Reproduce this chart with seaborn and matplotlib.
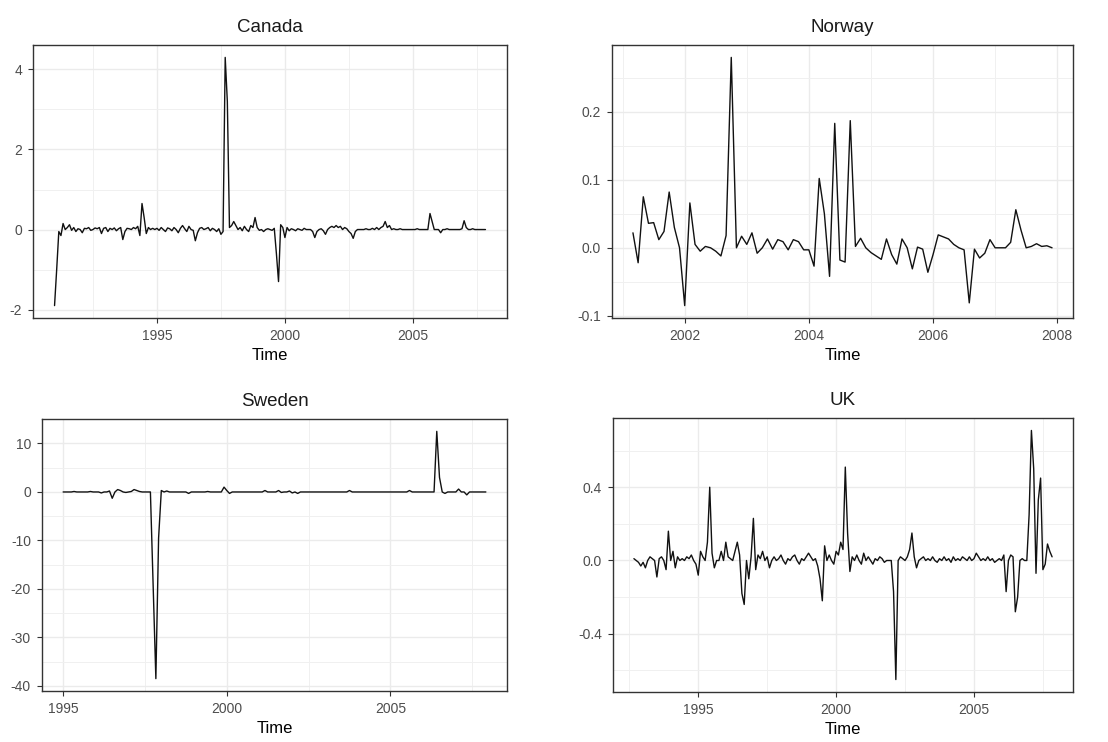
import numpy as np
import pandas as pd
import matplotlib
matplotlib.use("Agg")
import matplotlib.pyplot as plt
import seaborn as sns
from matplotlib.ticker import FixedLocator

# ---------------- data (monthly observations) ----------------
canada_start = (1991, 1)
canada = [
    -1.9, -1.0, -0.05, -0.15, 0.15, 0.0, 0.05, 0.12, -0.02, 0.05, -0.05, 0.02,   # 1991
    0.0, -0.08, 0.03, 0.02, 0.05, -0.02, 0.0, 0.04, 0.02, 0.05, -0.1, 0.03,       # 1992
    0.05, -0.05, 0.03, 0.0, 0.04, -0.03, 0.02, 0.05, -0.25, -0.05, 0.03, 0.02,    # 1993
    0.0, 0.05, 0.02, 0.08, -0.15, 0.65, 0.3, -0.1, 0.05, 0.0, 0.03, 0.0,          # 1994
    0.03, -0.02, 0.05, 0.0, -0.05, 0.04, 0.02, -0.03, 0.05, 0.0, -0.08, 0.03,     # 1995
    0.1, 0.02, -0.05, 0.08, 0.0, -0.02, -0.28, -0.08, 0.03, 0.05, 0.0, 0.02,      # 1996
    0.05, -0.03, 0.03, 0.0, -0.05, 0.02, -0.12, -0.05, 4.3, 3.2, 0.05, 0.1,       # 1997
    0.2, 0.1, 0.0, 0.05, -0.03, 0.08, 0.0, -0.05, 0.1, 0.05, 0.3, 0.05,           # 1998
    -0.02, 0.0, -0.05, 0.0, 0.02, 0.0, -0.02, 0.03, -0.6, -1.3, 0.12, 0.05,       # 1999
    -0.2, 0.05, -0.03, 0.02, 0.0, -0.03, 0.02, 0.0, -0.02, 0.03, 0.0, 0.0,        # 2000
    0.0, -0.05, -0.2, -0.05, 0.0, 0.02, -0.03, -0.12, 0.0, 0.05, 0.08, 0.05,      # 2001
    0.1, 0.05, 0.08, 0.0, 0.05, 0.02, -0.05, -0.1, -0.22, -0.05, 0.0, 0.0,        # 2002
    0.0, 0.0, 0.02, 0.0, 0.0, 0.03, 0.0, 0.05, 0.0, 0.05, 0.08, 0.2,              # 2003
    0.05, 0.1, 0.0, 0.02, 0.0, 0.0, 0.02, 0.0, 0.0, 0.0, 0.0, 0.0,                # 2004
    0.0, 0.0, 0.02, 0.0, 0.0, 0.0, 0.0, 0.0, 0.4, 0.2, 0.0, 0.0,                  # 2005
    0.0, -0.08, 0.0, 0.0, 0.02, 0.0, 0.0, 0.0, 0.0, 0.0, 0.0, 0.02,               # 2006
    0.22, 0.05, 0.0, 0.0, 0.02, 0.0, 0.0, 0.0, 0.0, 0.0, 0.0,                     # 2007
]

norway_start = (2001, 3)
norway = [
    0.022, -0.022, 0.075, 0.036, 0.037, 0.012, 0.024, 0.082, 0.03, 0.0,                 # 2001
    -0.085, 0.066, 0.005, -0.005, 0.002, 0.0, -0.005, -0.012, 0.018, 0.28, 0.0, 0.017,  # 2002
    0.005, 0.022, -0.008, 0.0, 0.013, -0.002, 0.012, 0.009, -0.003, 0.012, 0.009, -0.003,  # 2003
    -0.003, -0.027, 0.102, 0.05, -0.042, 0.183, -0.018, -0.021, 0.187, 0.002, 0.014, 0.0,  # 2004
    -0.007, -0.012, -0.017, 0.013, -0.01, -0.024, 0.013, 0.0, -0.031, 0.001, -0.002, -0.036,  # 2005
    -0.01, 0.019, 0.016, 0.013, 0.005, 0.0, -0.003, -0.081, -0.002, -0.015, -0.008, 0.012,  # 2006
    0.0, 0.0, 0.0, 0.008, 0.056, 0.026, 0.0, 0.002, 0.006, 0.002, 0.003, 0.0,            # 2007
]

sweden_start = (1995, 1)
sweden = [
    0, 0, 0, 0, 0.1, 0, 0, 0, 0, 0, 0.1, 0,                   # 1995
    0, 0, -0.2, 0, 0, 0.2, -1.3, 0, 0.5, 0.3, 0, -0.1,        # 1996
    0, 0.1, 0.5, 0.3, 0.1, 0, 0, 0, 0, -19, -38.5, -9.5,      # 1997
    0.3, 0, 0.2, 0, 0, 0, 0, 0, 0, 0, -0.3, 0,                # 1998
    0, 0, 0, 0, 0, 0.1, 0, 0, 0, 0, 0, 1.0,                   # 1999
    0.3, -0.3, 0, 0, 0, 0, 0, 0, 0, 0, 0, 0,                  # 2000
    0, 0, 0.3, 0, 0, 0, 0, 0.3, -0.1, 0, 0, 0.2,              # 2001
    -0.2, 0, -0.3, 0, 0, 0, 0, 0, 0, 0, 0, 0,                 # 2002
    0, 0, 0, 0, 0, 0, 0, 0, 0, 0.3, 0, 0,                     # 2003
    0, 0, 0, 0, 0, 0, 0, 0, 0, 0, 0, 0,                       # 2004
    0, 0, 0, 0, 0, 0, 0, 0.3, 0, 0, 0, 0,                     # 2005
    0, 0, 0, 0, 0, 12.5, 3, 0, -0.3, 0, 0, 0,                 # 2006
    0, 0.6, 0, 0, -0.6, 0, 0, 0, 0, 0, 0, 0,                  # 2007
]

uk_start = (1992, 9)
uk = [
    0.01, 0.0, -0.01, -0.03,                                               # 1992
    -0.01, -0.04, 0.0, 0.02, 0.01, 0.0, -0.09, 0.01, 0.02, 0.0, -0.05, 0.16,   # 1993
    0.0, 0.05, -0.04, 0.02, 0.0, 0.01, 0.0, 0.02, 0.01, 0.03, 0.0, -0.02,      # 1994
    -0.08, 0.05, 0.02, 0.0, 0.1, 0.4, 0.04, -0.04, 0.0, 0.0, 0.05, 0.0,        # 1995
    0.1, 0.02, 0.01, 0.0, 0.05, 0.1, 0.03, -0.18, -0.24, 0.0, -0.1, 0.02,      # 1996
    0.23, -0.05, 0.03, 0.01, 0.05, 0.0, 0.02, -0.04, 0.0, 0.02, 0.0, 0.01,     # 1997
    0.03, 0.0, -0.02, 0.01, 0.0, 0.02, 0.03, 0.0, -0.02, 0.01, 0.0, 0.02,      # 1998
    0.04, 0.02, 0.0, 0.01, -0.03, -0.1, -0.22, 0.08, 0.0, 0.03, 0.0, -0.02,    # 1999
    0.05, 0.03, 0.1, 0.06, 0.51, 0.15, -0.06, 0.02, 0.0, 0.03, 0.0, -0.02,     # 2000
    0.04, 0.0, 0.02, 0.0, -0.02, 0.01, 0.0, 0.02, 0.01, -0.01, 0.0, 0.0,       # 2001
    0.0, -0.17, -0.65, 0.0, 0.02, 0.01, 0.0, 0.02, 0.06, 0.15, 0.02, -0.04,    # 2002
    0.0, 0.01, 0.02, 0.0, 0.01, 0.0, 0.02, 0.0, -0.01, 0.01, 0.0, 0.02,        # 2003
    0.0, 0.01, -0.01, 0.02, 0.0, 0.01, 0.0, 0.02, 0.01, 0.0, 0.02, 0.0,        # 2004
    0.01, 0.04, 0.02, 0.0, 0.01, 0.0, 0.02, 0.0, 0.01, -0.01, 0.0, 0.01,       # 2005
    0.0, 0.03, -0.17, 0.0, 0.03, 0.02, -0.28, -0.2, 0.0, 0.01, 0.0, 0.0,       # 2006
    0.25, 0.71, 0.5, -0.07, 0.33, 0.45, -0.05, -0.02, 0.09, 0.05, 0.02,        # 2007
]

titles = ["Canada", "Norway", "Sweden", "UK"]
x_major = [[1995, 2000, 2005], [2002, 2004, 2006, 2008], [1995, 2000, 2005], [1995, 2000, 2005]]
x_minor = [[1992.5, 1997.5, 2002.5, 2007.5], [2001, 2003, 2005, 2007],
           [1997.5, 2002.5, 2007.5], [1992.5, 1997.5, 2002.5, 2007.5]]
y_major = [[-2, 0, 2, 4], [-0.1, 0.0, 0.1, 0.2], [-40, -30, -20, -10, 0, 10], [-0.4, 0.0, 0.4]]
y_minor = [[-1, 1, 3], [-0.05, 0.05, 0.15, 0.25], [-35, -25, -15, -5, 5], [-0.6, -0.2, 0.2, 0.6]]
y_labels = [["-2", "0", "2", "4"], ["-0.1", "0.0", "0.1", "0.2"],
            ["-40", "-30", "-20", "-10", "0", "10"], ["-0.4", "0.0", "0.4"]]
x_labels = [["1995", "2000", "2005"], ["2002", "2004", "2006", "2008"],
            ["1995", "2000", "2005"], ["1995", "2000", "2005"]]


def to_frame(start, values):
    y0, m0 = start
    t = [y0 + (m0 - 1 + i) / 12.0 for i in range(len(values))]
    return pd.DataFrame({"Time": t, "value": values})


frames = [to_frame(canada_start, canada), to_frame(norway_start, norway),
          to_frame(sweden_start, sweden), to_frame(uk_start, uk)]

# ---------------- figure ----------------
sns.set_style("white")
plt.rcParams["font.family"] = ["Liberation Sans", "DejaVu Sans"]

W, H = 1108, 742
fig = plt.figure(figsize=(W / 100, H / 100), dpi=100)
rects_px = [(33, 45, 507, 318), (612, 45, 1073, 318), (42, 419, 507, 691), (613, 418, 1073, 692)]

for i, (l, t, r, b) in enumerate(rects_px):
    ax = fig.add_axes([l / W, 1 - b / H, (r - l) / W, (b - t) / H])
    sns.lineplot(data=frames[i], x="Time", y="value", ax=ax, color="#111111",
                 linewidth=1.0, estimator=None, sort=False)
    ax.margins(x=0.05, y=0.05)
    ax.set_facecolor("white")
    ax.set_axisbelow(True)
    ax.xaxis.set_major_locator(FixedLocator(x_major[i]))
    ax.xaxis.set_minor_locator(FixedLocator(x_minor[i]))
    ax.yaxis.set_major_locator(FixedLocator(y_major[i]))
    ax.yaxis.set_minor_locator(FixedLocator(y_minor[i]))
    ax.set_xticklabels(x_labels[i])
    ax.set_yticklabels(y_labels[i])
    ax.grid(which="major", color="#EBEBEB", linewidth=1.0)
    ax.grid(which="minor", color="#F0F0F0", linewidth=0.7)
    for sp in ax.spines.values():
        sp.set_color("#333333")
        sp.set_linewidth(1.0)
    ax.tick_params(which="major", length=3.5, width=0.8, color="#333333",
                   labelcolor="#4D4D4D", labelsize=10, pad=4.5,
                   bottom=True, left=True)
    ax.tick_params(which="minor", length=0, bottom=False, left=False)
    ax.set_title(titles[i], fontsize=13.5, color="#1A1A1A", pad=9.5)
    ax.set_xlabel("Time", fontsize=12, color="black", labelpad=3.5)
    ax.set_ylabel("")

fig.savefig("out.png", dpi=100, facecolor="white")
